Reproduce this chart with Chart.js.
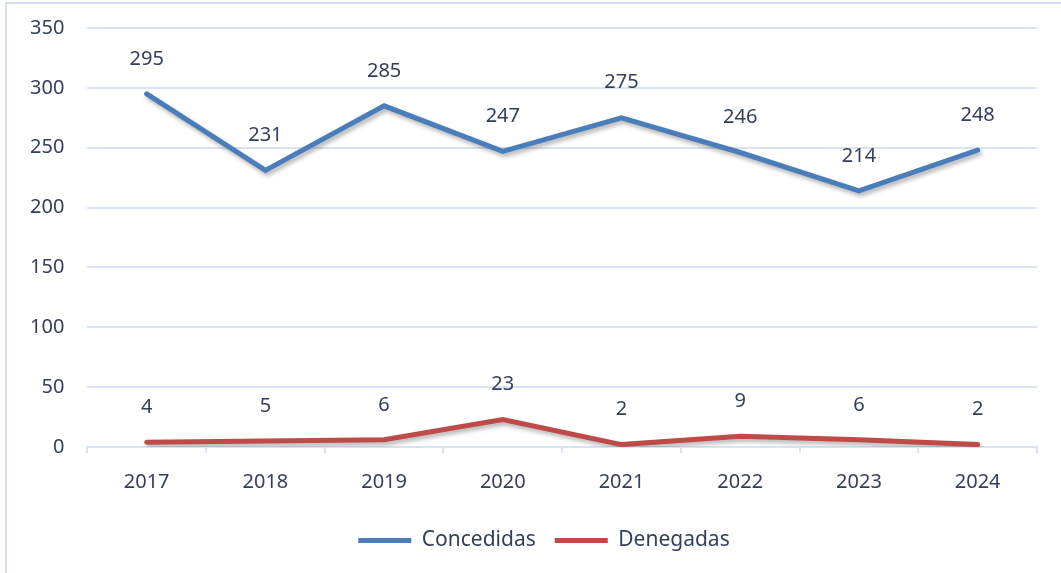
<!DOCTYPE html>
<html>
<head>
<meta charset="utf-8">
<script src="https://cdn.jsdelivr.net/npm/chart.js@4.4.1/dist/chart.umd.min.js"></script>
<style>
  html, body { margin: 0; padding: 0; background: #fff; }
  #wrap {
    position: relative;
    width: 1061px; height: 573px;
    box-sizing: border-box;
  }
  #frame {
    position: absolute; left: 5px; top: 2px; right: 0; bottom: 0;
    border-top: 2px solid #d5e0ef;
    border-left: 2px solid #d5e0ef;
  }
  canvas { position: absolute; left: 0; top: 0; }
</style>
</head>
<body>
<div id="wrap">
  <div id="frame"></div>
  <canvas id="chart" width="1061" height="573"></canvas>
</div>
<script>
// ── Data ────────────────────────────────────────────────────────────────
const years      = ['2017', '2018', '2019', '2020', '2021', '2022', '2023', '2024'];
const concedidas = [295, 231, 285, 247, 275, 246, 214, 248];
const denegadas  = [4, 5, 6, 23, 2, 9, 6, 2];

const TEXT_COLOR = '#34405a';
const GRID_COLOR = '#d9e3f1';
const FONT = { family: '"Noto Sans", "Open Sans", sans-serif', size: 20 };

// ── Excel-like soft shadow under the lines ──────────────────────────────
const shadowPlugin = {
  id: 'lineShadow',
  beforeDatasetDraw(chart) {
    const ctx = chart.ctx;
    ctx.save();
    ctx.shadowColor = 'rgba(0,0,0,0.30)';
    ctx.shadowBlur = 4;
    ctx.shadowOffsetX = 2;
    ctx.shadowOffsetY = 3;
  },
  afterDatasetDraw(chart) {
    chart.ctx.restore();
  }
};

// ── Value labels above each point ───────────────────────────────────────
const valueLabels = {
  id: 'valueLabels',
  afterDatasetsDraw(chart) {
    const ctx = chart.ctx;
    ctx.save();
    ctx.font = `${FONT.size}px ${FONT.family}`;
    ctx.fillStyle = TEXT_COLOR;
    ctx.textAlign = 'center';
    ctx.textBaseline = 'middle';
    chart.data.datasets.forEach((ds, i) => {
      const meta = chart.getDatasetMeta(i);
      meta.data.forEach((pt, j) => {
        ctx.fillText(String(ds.data[j]), pt.x, pt.y - 35);
      });
    });
    ctx.restore();
  }
};

// legend sits a little right of the canvas centre in the original
const legendShift = {
  id: 'legendShift',
  afterLayout(chart) {
    chart.legend.left += 11;
    chart.legend.right += 11;
  }
};

new Chart(document.getElementById('chart'), {
  type: 'line',
  data: {
    labels: years,
    datasets: [
      {
        label: 'Concedidas',
        data: concedidas,
        borderColor: '#4a7ebb',
        backgroundColor: '#4a7ebb',
        borderWidth: 5,
        borderCapStyle: 'round',
        pointRadius: 0,
        tension: 0
      },
      {
        label: 'Denegadas',
        data: denegadas,
        borderColor: '#be4b48',
        backgroundColor: '#be4b48',
        borderWidth: 5,
        borderCapStyle: 'round',
        pointRadius: 0,
        tension: 0
      }
    ]
  },
  options: {
    responsive: false,
    animation: false,
    events: [],
    layout: { padding: { left: 29, right: 24, top: 28, bottom: 12 } },
    scales: {
      x: {
        offset: true,
        grid: {
          offset: true,
          drawOnChartArea: false,
          drawTicks: true,
          tickLength: 6,
          color: GRID_COLOR,
          lineWidth: 2
        },
        border: { display: true, color: GRID_COLOR, width: 2 },
        ticks: { color: TEXT_COLOR, font: FONT, padding: 17, maxRotation: 0 }
      },
      y: {
        min: 0,
        max: 350,
        ticks: { stepSize: 50, color: TEXT_COLOR, font: FONT, padding: 1 },
        // invisible tick marks keep the labels away from the plot
        grid: { color: GRID_COLOR, lineWidth: 2, drawTicks: true, tickLength: 22, tickColor: 'rgba(0,0,0,0)' },
        border: { display: false }
      }
    },
    plugins: {
      legend: {
        position: 'bottom',
        labels: {
          color: TEXT_COLOR,
          font: { family: FONT.family, size: 21 },
          boxWidth: 53,
          boxHeight: 5,
          padding: 19,
          generateLabels(chart) {
            const items = Chart.defaults.plugins.legend.labels.generateLabels(chart);
            items.forEach(it => { it.lineWidth = 0; });
            return items;
          }
        }
      },
      tooltip: { enabled: false }
    }
  },
  plugins: [shadowPlugin, valueLabels, legendShift]
});
</script>
</body>
</html>
